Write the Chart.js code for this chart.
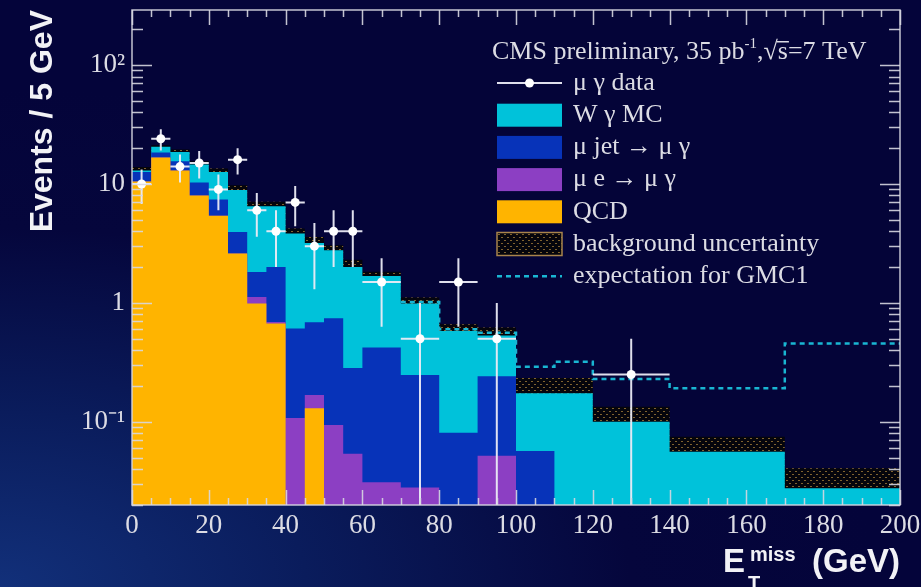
<!DOCTYPE html>
<html>
<head>
<meta charset="utf-8">
<script src="https://cdn.jsdelivr.net/npm/chart.js@4.4.1/dist/chart.umd.min.js"></script>
<style>
  html, body { margin: 0; padding: 0; }
  body {
    width: 921px; height: 587px; overflow: hidden;
    background: radial-gradient(ellipse 95% 85% at 0% 100%, #12307a 0%, #0a1c5c 35%, #05063c 72%, #04043a 100%);
  }
  #wrap { position: relative; width: 921px; height: 587px; }
</style>
</head>
<body>
<div id="wrap"><canvas id="chart"></canvas></div>
<script>
// bin edges in GeV (variable width above 60 GeV)
const binEdges = [0, 5, 10, 15, 20, 25, 30, 35, 40, 45, 50, 55, 60, 70, 80, 90, 100, 110, 120, 140, 170, 200];

// stacked contributions per bin, events / 5 GeV
const qcd    = [10.5, 16.7, 13.0, 8.0, 5.4, 2.6, 0.99, 0.67, 0, 0.13, 0, 0, 0, 0, 0, 0, 0, 0, 0, 0, 0];
const muE    = [0, 0, 0, 0, 0, 0, 0.13, 0.02, 0.108, 0.038, 0.094, 0.054, 0.031, 0.028, 0, 0.052, 0, 0, 0, 0, 0];
const muJet  = [2.1, 1.7, 2.5, 2.3, 2.0, 1.35, 0.70, 1.31, 0.50, 0.52, 0.65, 0.23, 0.39, 0.22, 0.081, 0.19, 0.057, 0, 0, 0, 0];
const wGamma = [0.4, 2.1, 3.1, 4.3, 5.2, 4.95, 4.68, 4.5, 3.22, 2.5, 2.03, 1.72, 1.26, 0.74, 0.50, 0.29, 0.117, 0.174, 0.10, 0.056, 0.0277];
const bkgErr = [0.9, 0.7, 0.9, 0.9, 0.9, 0.85, 0.6, 0.6, 0.39, 0.4, 0.28, 0.3, 0.15, 0.12, 0.08, 0.09, 0.06, 0.06, 0.034, 0.019, 0.013];

// signal expectation (GMC1), drawn only where it sticks out
const gmc1 = [null, null, null, null, null, null, null, null, null, null, null, null, null, 1.02, 0.6, 0.56, 0.29, 0.32, 0.229, 0.192, 0.456];

// data and its errors
const dataY   = [10, 24, 14, 15, 9, 16, 6, 4, 7, 3, 4, 4, 1.5, 0.5, 1.5, 0.5, null, null, 0.25, null, null];
const dataErr = [3.2, 4.9, 3.7, 3.9, 3, 4, 2.4, 2, 2.6, 1.7, 2, 2, 0.87, 0.5, 0.87, 0.5, null, null, 0.25, null, null];

// axes
const xTickValues = [0, 20, 40, 60, 80, 100, 120, 140, 160, 180, 200];
const yTickValues = [0.1, 1, 10, 100];
const yTickText   = ['10⁻¹', '1', '10', '10²'];

const COL = {
    wg: '#00c2da',
    jet: '#0733b9',
    mue: '#8c3fc3',
    qcd: '#ffb400',
    gmc: '#19b6d2'
};

// sum of several per-bin arrays
function cumulate(...parts) {
    return parts[0].map((_, i) => parts.reduce((s, p) => s + p[i], 0));
}

// histogram -> points for a stepped line (value holds from left edge)
function steps(vals) {
    return binEdges.map((x, i) => {
        const v = vals[Math.min(i, vals.length - 1)];
        return { x: x, y: v === null ? null : Math.max(v, 1e-3) };
    });
}

const stQcd = qcd;
const stMuE = cumulate(qcd, muE);
const stJet = cumulate(qcd, muE, muJet);
const stTot = cumulate(qcd, muE, muJet, wGamma);
const stBand = stTot.map((v, i) => v + bkgErr[i]);

const dataPoints = [];
dataY.forEach((v, i) => {
    if (v === null) return;
    dataPoints.push({ x: (binEdges[i] + binEdges[i + 1]) / 2, y: v, lo: binEdges[i], hi: binEdges[i + 1], err: dataErr[i] });
});

const canvas = document.getElementById('chart');
const ctx = canvas.getContext('2d');

// dotted hatch for the uncertainty band
function hatch() {
    const c = document.createElement('canvas');
    c.width = 6; c.height = 6;
    const g = c.getContext('2d');
    g.fillStyle = '#05050c';
    g.fillRect(0, 0, 6, 6);
    g.fillStyle = '#80622f';
    g.fillRect(0, 0, 2, 1);
    g.fillRect(3, 3, 2, 1);
    return ctx.createPattern(c, 'repeat');
}
const hatchFill = hatch();

function histSet(label, vals, color, order) {
    return {
        label: label,
        data: steps(vals),
        stepped: true,
        fill: 'start',
        backgroundColor: color,
        borderColor: 'rgba(0,0,0,0)',
        borderWidth: 0,
        pointRadius: 0,
        order: order
    };
}

// plot background, frame and inner ticks
const framePlugin = {
    id: 'frame',
    beforeDatasetsDraw(chart) {
        const a = chart.chartArea, c = chart.ctx;
        c.save();
        c.fillStyle = '#040438';
        c.fillRect(a.left, a.top, a.right - a.left, a.bottom - a.top);
        c.restore();
    },
    afterDatasetsDraw(chart) {
        const a = chart.chartArea, c = chart.ctx;
        const xs = chart.scales.x, ys = chart.scales.y;
        c.save();
        c.strokeStyle = 'rgba(215,215,225,0.9)';
        c.lineWidth = 1.5;
        c.beginPath();
        for (let v = 0; v <= 200; v += 5) {
            const px = Math.round(xs.getPixelForValue(v)) + 0.5;
            const len = v % 20 === 0 ? 15 : 7;
            c.moveTo(px, a.bottom); c.lineTo(px, a.bottom - len);
            c.moveTo(px, a.top); c.lineTo(px, a.top + len);
        }
        for (let d = -2; d <= 2; d++) {
            for (let m = 1; m <= 9; m++) {
                const v = m * Math.pow(10, d);
                if (v < ys.min || v > ys.max) continue;
                const py = Math.round(ys.getPixelForValue(v)) + 0.5;
                const len = m === 1 ? 20 : 11;
                c.moveTo(a.left, py); c.lineTo(a.left + len, py);
                c.moveTo(a.right, py); c.lineTo(a.right - len, py);
            }
        }
        c.stroke();
        c.strokeRect(a.left, a.top, a.right - a.left, a.bottom - a.top);
        c.restore();
    }
};

// error bars under the data markers
const errorBarPlugin = {
    id: 'errorBars',
    beforeDatasetDraw(chart, args) {
        const ds = chart.data.datasets[args.index];
        if (!ds.errorBars) return;
        const a = chart.chartArea, c = chart.ctx;
        const xs = chart.scales.x, ys = chart.scales.y;
        c.save();
        c.beginPath();
        c.rect(a.left, a.top, a.right - a.left, a.bottom - a.top);
        c.clip();
        c.strokeStyle = 'rgba(235,235,245,0.95)';
        c.lineWidth = 2;
        c.beginPath();
        ds.data.forEach(p => {
            const px = xs.getPixelForValue(p.x);
            const py = ys.getPixelForValue(p.y);
            const up = ys.getPixelForValue(p.y + p.err);
            const dn = ys.getPixelForValue(Math.max(p.y - p.err, 0));
            c.moveTo(px, up); c.lineTo(px, dn);
            c.moveTo(xs.getPixelForValue(p.lo), py); c.lineTo(xs.getPixelForValue(p.hi), py);
        });
        c.stroke();
        c.restore();
    }
};

// axis titles and the legend block
const textPlugin = {
    id: 'texts',
    afterDraw(chart) {
        const c = chart.ctx;
        const ds = chart.data.datasets;
        c.save();
        // y title
        c.translate(43, 10);
        c.rotate(-Math.PI / 2);
        c.font = 'bold 32px "Liberation Sans", Arial, sans-serif';
        c.fillStyle = '#f2f2f6';
        c.textAlign = 'right';
        c.textBaseline = 'middle';
        c.fillText('Events / 5 GeV', 0, 0);
        c.restore();

        // x title
        c.save();
        c.fillStyle = '#f2f2f6';
        c.textBaseline = 'alphabetic';
        c.textAlign = 'right';
        c.font = 'bold 33px "Liberation Sans", Arial, sans-serif';
        c.fillText('(GeV)', 900, 572);
        c.textAlign = 'left';
        c.fillText('E', 723, 572);
        c.font = 'bold 20px "Liberation Sans", Arial, sans-serif';
        c.fillText('miss', 750, 561);
        c.fillText('T', 748, 590);
        c.restore();

        // legend
        c.save();
        const serif = '"Liberation Serif", "Times New Roman", serif';
        c.fillStyle = '#dcdce4';
        c.textBaseline = 'middle';
        c.textAlign = 'left';
        c.font = '26px ' + serif;
        let x = 492;
        const hy = 52;
        let t = 'CMS preliminary, 35 pb';
        c.fillText(t, x, hy); x += c.measureText(t).width;
        c.font = '15px ' + serif;
        c.fillText('-1', x, hy - 8); x += c.measureText('-1').width;
        c.font = '26px ' + serif;
        c.fillText(',', x, hy); x += c.measureText(',').width;
        c.fillText('√', x, hy); x += c.measureText('√').width;
        const sw = c.measureText('s').width;
        c.fillText('s', x, hy);
        c.fillRect(x - 1, hy - 11, sw + 2, 1.5);
        x += sw;
        c.fillText('=7 TeV', x, hy);

        const rows = ['μ γ data', 'W γ MC', 'μ jet → μ γ', 'μ e → μ γ', 'QCD', 'background uncertainty', 'expectation for GMC1'];
        const bx = 497, bw = 65, tx = 573;
        rows.forEach((lbl, k) => {
            const y = 83 + k * 32.2;
            const d = ds.find(s => s.label === lbl);
            if (d.errorBars) {
                c.strokeStyle = 'rgba(235,235,245,0.95)';
                c.lineWidth = 2;
                c.beginPath(); c.moveTo(bx, y); c.lineTo(bx + bw, y); c.stroke();
                c.fillStyle = '#ffffff';
                c.beginPath(); c.arc(bx + bw / 2, y, 4.5, 0, Math.PI * 2); c.fill();
            } else if (d.fill === false) {
                c.strokeStyle = d.borderColor;
                c.lineWidth = 2.5;
                c.setLineDash([5, 4]);
                c.beginPath(); c.moveTo(bx, y); c.lineTo(bx + bw, y); c.stroke();
                c.setLineDash([]);
            } else {
                c.fillStyle = d.backgroundColor;
                c.fillRect(bx, y - 11.5, bw, 23);
                if (d.backgroundColor === hatchFill) {
                    c.strokeStyle = '#a8844c';
                    c.lineWidth = 1.5;
                    c.strokeRect(bx, y - 11.5, bw, 23);
                }
            }
            c.fillStyle = '#dcdce4';
            c.font = '26px ' + serif;
            c.fillText(lbl, tx, y);
        });
        c.restore();
    }
};

new Chart(canvas, {
    type: 'line',
    data: {
        datasets: [
            {
                label: 'μ γ data',
                data: dataPoints,
                showLine: false,
                errorBars: true,
                pointRadius: 4.5,
                pointHoverRadius: 4.5,
                pointBackgroundColor: '#ffffff',
                pointBorderWidth: 0,
                order: 0
            },
            {
                label: 'expectation for GMC1',
                data: steps(gmc1),
                stepped: true,
                fill: false,
                borderColor: COL.gmc,
                borderWidth: 2.5,
                borderDash: [5, 4],
                pointRadius: 0,
                spanGaps: false,
                order: 1
            },
            histSet('QCD', stQcd, COL.qcd, 2),
            histSet('μ e → μ γ', stMuE, COL.mue, 3),
            histSet('μ jet → μ γ', stJet, COL.jet, 4),
            histSet('W γ MC', stTot, COL.wg, 5),
            histSet('background uncertainty', stBand, hatchFill, 6)
        ]
    },
    options: {
        responsive: true,
        maintainAspectRatio: false,
        animation: false,
        layout: { padding: { top: 10, right: 21, left: 0, bottom: 0 } },
        plugins: {
            legend: { display: false },
            tooltip: { enabled: false }
        },
        scales: {
            x: {
                type: 'linear',
                min: 0,
                max: 200,
                afterFit: s => { s.height = 82; s.paddingLeft = 0; s.paddingRight = 0; },
                afterBuildTicks: s => { s.ticks = xTickValues.map(v => ({ value: v })); },
                grid: { display: false, drawTicks: false },
                border: { display: false },
                ticks: {
                    color: '#dcdce4',
                    font: { family: '"Liberation Serif", "Times New Roman", serif', size: 27 },
                    padding: 5,
                    maxRotation: 0,
                    autoSkip: false
                }
            },
            y: {
                type: 'logarithmic',
                min: 0.02,
                max: 290,
                afterFit: s => { s.width = 132; s.paddingTop = 0; s.paddingBottom = 0; },
                afterBuildTicks: s => { s.ticks = yTickValues.map(v => ({ value: v })); },
                grid: { display: false, drawTicks: false },
                border: { display: false },
                ticks: {
                    color: '#dcdce4',
                    font: { family: '"Liberation Serif", "Times New Roman", serif', size: 27 },
                    padding: 7,
                    autoSkip: false,
                    callback: v => {
                        const k = yTickValues.findIndex(t => Math.abs(t - v) < 1e-9 * Math.max(1, v));
                        return k >= 0 ? yTickText[k] : '';
                    }
                }
            }
        }
    },
    plugins: [framePlugin, errorBarPlugin, textPlugin]
});
</script>
</body>
</html>
